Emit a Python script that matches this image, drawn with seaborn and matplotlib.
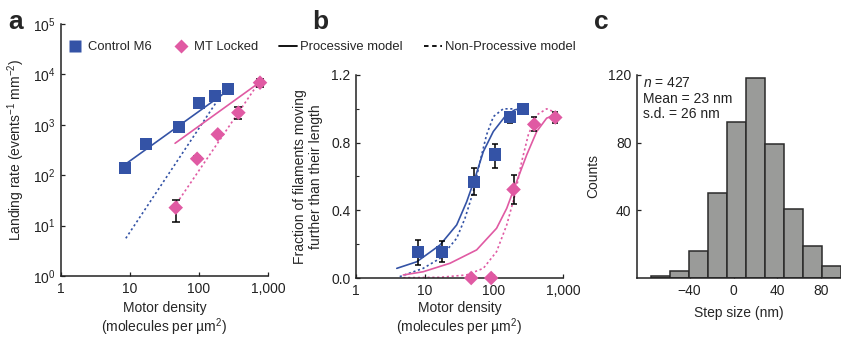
import matplotlib
matplotlib.use("Agg")
import matplotlib.pyplot as plt
import matplotlib.ticker as mticker
from matplotlib.lines import Line2D
import numpy as np
import pandas as pd
import seaborn as sns

BLUE = "#3453a6"
PINK = "#e05aa3"
GRAY = "#9a9b99"

# ---- panel a: landing rate ----
ctrl_x = [8.5, 17, 51, 101, 170, 260]
ctrl_rate = [137, 410, 918, 2750, 3700, 5100]

lock_x = [46, 94, 187, 372, 766]
lock_rate = [22.7, 212, 646, 1740, 6850]
lock_rate_lo = [11.6, 190, 600, 1300, 5600]
lock_rate_hi = [32.5, 235, 700, 2270, 8200]

ctrl_proc_x = [8.5, 230]
ctrl_proc_y = [164, 4200]
ctrl_nonproc_x = [8.7, 225]
ctrl_nonproc_y = [5.6, 4540]
lock_proc_x = [45, 724]
lock_proc_y = [430, 6660]
lock_nonproc_x = [47.5, 724]
lock_nonproc_y = [27.7, 6660]

# ---- panel b: fraction moving ----
ctrl_frac_x = [7.85, 17.5, 51.6, 104, 172, 260]
ctrl_frac = [0.154, 0.154, 0.568, 0.73, 0.953, 1.0]
ctrl_frac_lo = [0.075, 0.095, 0.489, 0.653, 0.918, 1.0]
ctrl_frac_hi = [0.227, 0.219, 0.651, 0.795, 0.977, 1.0]

lock_frac_x = [46.7, 91, 192, 383, 773]
lock_frac = [0.0, 0.0, 0.523, 0.908, 0.949]
lock_frac_lo = [0.0, 0.0, 0.436, 0.868, 0.918]
lock_frac_hi = [0.0, 0.0, 0.61, 0.953, 0.983]

b_ctrl_proc_x = [3.9, 7.6, 16.5, 28.8, 40.2, 53, 70, 97.7, 144, 200, 235]
b_ctrl_proc_y = [0.057, 0.096, 0.195, 0.314, 0.451, 0.59, 0.747, 0.866, 0.954, 0.994, 1.0]
b_ctrl_nonproc_x = [4.3, 9.4, 16.5, 28.8, 38, 50, 62.7, 78, 98, 136, 190]
b_ctrl_nonproc_y = [0.008, 0.057, 0.116, 0.235, 0.353, 0.51, 0.688, 0.846, 0.954, 1.0, 1.0]
b_lock_proc_x = [4.85, 9.4, 23, 56, 109, 153, 213, 298, 416, 580, 766]
b_lock_proc_y = [0.018, 0.037, 0.087, 0.166, 0.294, 0.412, 0.57, 0.728, 0.866, 0.945, 0.964]
b_lock_nonproc_x = [4.85, 16.5, 40, 70, 109, 153, 201, 252, 314, 416, 580, 766]
b_lock_nonproc_y = [0.002, 0.004, 0.018, 0.057, 0.156, 0.314, 0.491, 0.688, 0.846, 0.964, 1.0, 0.98]

# ---- panel c: step size histogram ----
step_edges = [-75, -57.7, -40.4, -23.1, -5.8, 11.5, 28.8, 46.1, 63.4, 80.7, 98]
step_counts = [1, 4, 16, 50, 92, 118, 79, 41, 19, 7]

sns.set_theme(style="ticks")
plt.rcParams["font.family"] = ["Liberation Sans", "DejaVu Sans"]
plt.rcParams["mathtext.fontset"] = "custom"
plt.rcParams["mathtext.rm"] = "Liberation Sans"
plt.rcParams["mathtext.it"] = "Liberation Sans:italic"
plt.rcParams["font.size"] = 10

W, H = 841, 337
fig = plt.figure(figsize=(W / 100, H / 100), dpi=100)


def box(l, r, b, t):
    return [l / W, 1 - b / H, (r - l) / W, (b - t) / H]


ax_a = fig.add_axes(box(61, 268, 276, 24))
ax_b = fig.add_axes(box(356, 563, 278, 75))
ax_c = fig.add_axes(box(637, 841, 278, 75))

dot = (1.3, 1.6)
XLAB = "Motor density\n(molecules per µm$^2$)"


def style(ax):
    sns.despine(ax=ax)
    for s in ("left", "bottom"):
        ax.spines[s].set_linewidth(1.1)
        ax.spines[s].set_color("#222222")
    ax.tick_params(direction="in", length=3, width=0.9, labelsize=10, colors="#222222",
                   labelcolor="#222222", pad=4)
    ax.tick_params(which="minor", direction="in", length=2, width=0.8)


# panel a
for x, y, c, ls in [(ctrl_proc_x, ctrl_proc_y, BLUE, "-"), (ctrl_nonproc_x, ctrl_nonproc_y, BLUE, ":"),
                    (lock_proc_x, lock_proc_y, PINK, "-"), (lock_nonproc_x, lock_nonproc_y, PINK, ":")]:
    line = sns.lineplot(x=x, y=y, ax=ax_a, color=c, lw=1.2, sort=False)
    if ls == ":":
        line.lines[-1].set_dashes(dot)
ax_a.errorbar(lock_x, lock_rate,
              yerr=[np.array(lock_rate) - np.array(lock_rate_lo), np.array(lock_rate_hi) - np.array(lock_rate)],
              fmt="none", ecolor="black", elinewidth=1.1, capsize=3, capthick=1.1, zorder=3)
sns.scatterplot(x=ctrl_x, y=ctrl_rate, ax=ax_a, marker="s", s=75, color=BLUE, edgecolor="none", zorder=4)
sns.scatterplot(x=lock_x, y=lock_rate, ax=ax_a, marker="D", s=55, color=PINK, edgecolor="none", zorder=4)
ax_a.set_xscale("log")
ax_a.set_yscale("log")
ax_a.set_xlim(1, 1000)
ax_a.set_ylim(1, 1e5)
ax_a.set_xticks([1, 10, 100, 1000])
ax_a.set_xticklabels(["1", "10", "100", "1,000"])
ax_a.set_yticks([10 ** k for k in range(6)])
ax_a.set_yticklabels([f"$10^{k}$" for k in range(6)])
ax_a.xaxis.set_minor_locator(mticker.NullLocator())
ax_a.yaxis.set_minor_locator(mticker.NullLocator())
ax_a.set_xlabel(XLAB, fontsize=10, labelpad=4, linespacing=1.1)
ax_a.set_ylabel("Landing rate (events$^{-1}$ mm$^{-2}$)", fontsize=10, labelpad=4)
style(ax_a)

# panel b
for x, y, c, ls in [(b_ctrl_proc_x, b_ctrl_proc_y, BLUE, "-"), (b_ctrl_nonproc_x, b_ctrl_nonproc_y, BLUE, ":"),
                    (b_lock_proc_x, b_lock_proc_y, PINK, "-"), (b_lock_nonproc_x, b_lock_nonproc_y, PINK, ":")]:
    line = sns.lineplot(x=x, y=y, ax=ax_b, color=c, lw=1.2, sort=False)
    if ls == ":":
        line.lines[-1].set_dashes(dot)
for xs, ys, lo, hi in [(ctrl_frac_x, ctrl_frac, ctrl_frac_lo, ctrl_frac_hi),
                       (lock_frac_x, lock_frac, lock_frac_lo, lock_frac_hi)]:
    ys = np.array(ys)
    err = [ys - np.array(lo), np.array(hi) - ys]
    keep = (err[0] + err[1]) > 0
    ax_b.errorbar(np.array(xs)[keep], ys[keep], yerr=[err[0][keep], err[1][keep]],
                  fmt="none", ecolor="black", elinewidth=1.1, capsize=2.5, capthick=1.1, zorder=3)
sns.scatterplot(x=ctrl_frac_x, y=ctrl_frac, ax=ax_b, marker="s", s=75, color=BLUE, edgecolor="none",
                zorder=4, clip_on=False)
sns.scatterplot(x=lock_frac_x, y=lock_frac, ax=ax_b, marker="D", s=55, color=PINK, edgecolor="none",
                zorder=4, clip_on=False)
ax_b.set_xscale("log")
ax_b.set_xlim(1, 1000)
ax_b.set_ylim(0, 1.2)
ax_b.set_xticks([1, 10, 100, 1000])
ax_b.set_xticklabels(["1", "10", "100", "1,000"])
ax_b.xaxis.set_minor_locator(mticker.NullLocator())
ax_b.set_yticks([0, 0.4, 0.8, 1.2])
ax_b.set_yticklabels(["0.0", "0.4", "0.8", "1.2"])
ax_b.yaxis.set_minor_locator(mticker.MultipleLocator(0.2))
ax_b.set_xlabel(XLAB, fontsize=10, labelpad=2.5, linespacing=1.1)
ax_b.set_ylabel("Fraction of filaments moving\nfurther than their length", fontsize=10, labelpad=6)
style(ax_b)

# panel c
centers = [(a + b) / 2 for a, b in zip(step_edges[:-1], step_edges[1:])]
sns.histplot(x=centers, weights=step_counts, bins=step_edges, ax=ax_c, color=GRAY, alpha=1,
             edgecolor="#2a2a2a", linewidth=1.1)
ax_c.set_xlim(-88, 98)
ax_c.set_ylim(0, 120)
ax_c.set_xticks([-40, 0, 40, 80])
ax_c.set_xticklabels(["\u221240", "0", "40", "80"])
ax_c.set_yticks([40, 80, 120])
ax_c.set_xlabel("Step size (nm)", fontsize=10, labelpad=6)
ax_c.set_ylabel("Counts", fontsize=10, labelpad=6)
style(ax_c)
ax_c.text(0.03, 0.995, "$n$ = 427\nMean = 23 nm\ns.d. = 26 nm", transform=ax_c.transAxes,
          ha="left", va="top", fontsize=10, linespacing=1.15, color="#222222")

# panel letters
for lab, x in [("a", 8), ("b", 312), ("c", 594)]:
    fig.text(x / W, 1 - 22 / H, lab, fontsize=19, fontweight="bold", ha="left", va="center")

# legend
handles = [
    Line2D([], [], ls="none", marker="s", ms=8, color=BLUE, mec="none"),
    Line2D([], [], ls="none", marker="D", ms=7, color=PINK, mec="none"),
    Line2D([], [], ls="-", lw=1.3, color="black"),
    Line2D([], [], ls=(0, (2.5, 2)), lw=1.3, color="black"),
]
labels = ["Control M6", "MT Locked", "Processive model", "Non-Processive model"]
fig.legend(handles, labels, loc="center left", bbox_to_anchor=(66 / W, 1 - 47 / H), ncol=4,
           frameon=False, fontsize=9.4, handlelength=1.4, handletextpad=0.25, columnspacing=1.6,
           borderaxespad=0, borderpad=0)

fig.savefig("out.png", dpi=100)
